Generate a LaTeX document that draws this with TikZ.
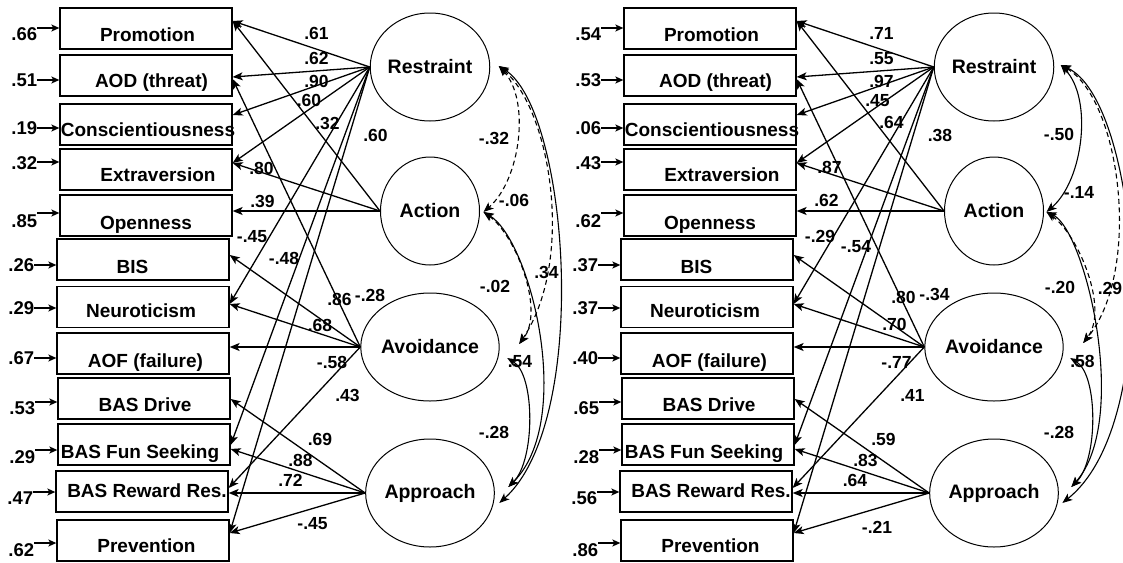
\documentclass[tikz,border=0pt]{standalone}
\usepackage{fontspec}
\setmainfont{Liberation Sans}
\usetikzlibrary{arrows.meta,shapes.geometric,calc}

\tikzset{
  obsbox/.style={draw, line width=1.3pt, minimum width=172pt, minimum height=41pt,
    inner sep=0pt, text depth=0pt, font=\fontsize{19}{20}\selectfont\bfseries},
  latent/.style={draw, ellipse, line width=1pt, minimum width=99pt, minimum height=108pt,
    inner sep=0pt, font=\fontsize{19.5}{20}\selectfont\bfseries},
  errlabel/.style={anchor=east, inner sep=0pt, font=\fontsize{18.5}{20}\selectfont\bfseries},
  coef/.style={inner sep=0pt, font=\fontsize{17.5}{18}\selectfont\bfseries},
  errarrow/.style={line width=1.3pt, -{Stealth[length=8pt,width=7pt,inset=2pt]}},
  load/.style={line width=1.3pt, -{Stealth[length=10pt,width=8pt,inset=2.5pt]}},
  cov/.style={line width=1.1pt,
    {Stealth[length=10pt,width=8pt,inset=2.5pt]}-{Stealth[length=10pt,width=8pt,inset=2.5pt]}},
  covdash/.style={cov, dash pattern=on 5pt off 3.5pt},
}

% #1 name, #2/#3 centre, #4 text, #5 error value, #6 error arrow offset,
% #7 error label offset, #8 text height (vertical placement), #9 twice the text shift
\newcommand\obsnode[9]{%
  \node[obsbox, text height=#8pt] (#1) at (#2,#3) {\makebox[0pt]{\hspace*{#9pt}#4}};
  \coordinate (#1-in) at ($(#1.west)+(0,#6)$);
  \node[errlabel] (#1-err) at ($(#1-in)+(-22,#7)$) {#5};
  \draw[errarrow] (#1-err.east |- #1-in) -- (#1-in);
}

\begin{document}
\begin{tikzpicture}[x=1pt,y=-1pt]
\useasboundingbox (0,0) rectangle (1123,562);

% ---------------- left model ----------------
\obsnode{L-prom}{146}{28.5}{Promotion}{.66}{-0.5}{6}{25.6}{3}
\obsnode{L-aod}{146}{75.5}{AOD (threat)}{.51}{4.5}{0}{23.2}{11}
\obsnode{L-con}{146}{124.5}{Conscientiousness}{.19}{3.5}{0}{23.2}{4}
\obsnode{L-ext}{146}{169.5}{Extraversion}{.32}{-7.5}{1}{23.2}{24}
\obsnode{L-opn}{146}{215.5}{Openness}{.85}{-2.5}{8}{27.2}{0}
\obsnode{L-bis}{143}{259.5}{BIS}{.26}{5.5}{0}{27.2}{-21}
\obsnode{L-neu}{143}{307}{Neuroticism}{.29}{1}{0}{20.2}{-4}
\obsnode{L-aof}{143}{353.5}{AOF (failure)}{.67}{4.5}{0}{27.2}{5}
\obsnode{L-drv}{144}{398.5}{BAS Drive}{.53}{3.5}{6}{26.2}{2}
\obsnode{L-fun}{144}{444.5}{BAS Fun Seeking}{.29}{5.5}{7}{27.2}{-8}
\obsnode{L-rew}{142}{491.5}{BAS Reward Res.}{.47}{0.5}{6}{11.2}{10}
\obsnode{L-prv}{143}{540.5}{Prevention}{.62}{2.5}{7}{23.2}{7}

\node[latent] (L-res) at (430,67)  {Restraint};
\node[latent] (L-act) at (430,211) {Action};
\node[latent] (L-avo) at (430,347) {Avoidance};
\node[latent] (L-app) at (430,493) {Approach};

% loadings
\draw[load] (L-res.west) -- ($(L-prom.east)+(0,-7.5)$);
\draw[load] (L-res.west) -- ($(L-aod.east)+(0,1.5)$);
\draw[load] (L-res.west) -- ($(L-con.east)+(0,-9.5)$);
\draw[load] (L-res.west) -- ($(L-ext.east)+(0,-6.5)$);
\draw[load] (L-res.west) -- ($(L-neu.east)+(0,-3)$);
\draw[load] (L-res.west) -- ($(L-fun.east)+(0,0.5)$);
\draw[load] (L-res.west) -- ($(L-prv.east)+(0,-7.5)$);
\draw[load] (L-act.west) -- ($(L-prom.east)+(0,-7.5)$);
\draw[load] (L-act.west) -- ($(L-ext.east)+(0,-6.5)$);
\draw[load] (L-act.west) -- (L-act.west -| L-opn.east);
\draw[load] (L-avo.west) -- ($(L-aod.east)+(0,3.5)$);
\draw[load] (L-avo.west) -- ($(L-bis.east)+(0,-4.5)$);
\draw[load] (L-avo.west) -- ($(L-neu.east)+(0,-3)$);
\draw[load] (L-avo.west) -- (L-avo.west -| L-aof.east);
\draw[load] (L-avo.west) -- ($(L-rew.east)+(0,-3.5)$);
\draw[load] (L-app.west) -- ($(L-drv.east)+(0,0.5)$);
\draw[load] (L-app.west) -- ($(L-fun.east)+(0,4.5)$);
\draw[load] (L-app.west) -- (L-app.west -| L-rew.east);
\draw[load] (L-app.west) -- ($(L-prv.east)+(0,-7.5)$);

% covariances
\draw[covdash] ($(L-res.east)+(8.5,-1)$) .. controls +(32,34) and +(37,-32) .. ($(L-act.east)+(3.5,1)$);
\draw[covdash] ($(L-res.east)+(8.5,-1)$) .. controls +(52,44) and +(56,-84) .. ($(L-avo.east)+(19.5,-3)$);
\draw[covdash] ($(L-act.east)+(3.5,1)$) .. controls +(32,23) and +(26,-34) .. ($(L-avo.east)+(19.5,-3)$);
\draw[cov] ($(L-res.east)+(8.5,-1)$) .. controls +(70,44) and +(92,-83) .. ($(L-app.east)+(4.5,10)$);
\draw[cov] ($(L-act.east)+(3.5,1)$) .. controls +(47,28) and +(67,-67) .. ($(L-app.east)+(13.5,-6)$);
\draw[cov] ($(L-avo.east)+(7.5,11)$) .. controls +(28,17) and +(27,-27) .. ($(L-app.east)+(13.5,-6)$);

\foreach \x/\y/\v [count=\i] in {316.5/33/.61, 316.5/58.5/.62, 316.5/81.5/.90, 309/100/.60,
  327.5/123.5/.32, 375.5/135/.60, 261.5/168.5/.80, 262.5/201.5/.39, 252/236.5/-.45,
  284/258.5/-.48, 339.5/299/.86, 370/295.5/-.28, 320/325.5/.68, 332/362/-.58,
  347.5/395.5/.43, 320/439.5/.69, 300.5/460.5/.88, 290.5/480.5/.72, 312.5/523.5/-.45,
  494/138.5/-.32, 514/200/-.06, 495/286.5/-.02, 546.5/272.5/.34, 520/361.5/.54, 494/432.5/-.28}
  {\node[coef] (L-c\i) at (\x,\y) {\v};}

% ---------------- right model ----------------
\obsnode{R-prom}{710}{28.5}{Promotion}{.54}{-0.5}{6}{25.6}{3}
\obsnode{R-aod}{710}{75.5}{AOD (threat)}{.53}{4.5}{0}{23.2}{11}
\obsnode{R-con}{710}{124.5}{Conscientiousness}{.06}{3.5}{0}{23.2}{4}
\obsnode{R-ext}{710}{169.5}{Extraversion}{.43}{-7.5}{1}{23.2}{24}
\obsnode{R-opn}{710}{215.5}{Openness}{.62}{-2.5}{8}{27.2}{0}
\obsnode{R-bis}{707}{259.5}{BIS}{.37}{5.5}{0}{27.2}{-21}
\obsnode{R-neu}{707}{307}{Neuroticism}{.37}{1}{0}{20.2}{-4}
\obsnode{R-aof}{707}{353.5}{AOF (failure)}{.40}{4.5}{0}{27.2}{5}
\obsnode{R-drv}{708}{398.5}{BAS Drive}{.65}{3.5}{6}{26.2}{2}
\obsnode{R-fun}{708}{444.5}{BAS Fun Seeking}{.28}{5.5}{7}{27.2}{-8}
\obsnode{R-rew}{706}{491.5}{BAS Reward Res.}{.56}{0.5}{6}{11.2}{10}
\obsnode{R-prv}{707}{540.5}{Prevention}{.86}{2.5}{7}{23.2}{7}

\node[latent] (R-res) at (994,67)  {Restraint};
\node[latent] (R-act) at (994,211) {Action};
\node[latent] (R-avo) at (994,347) {Avoidance};
\node[latent] (R-app) at (994,493) {Approach};

\draw[load] (R-res.west) -- ($(R-prom.east)+(0,-7.5)$);
\draw[load] (R-res.west) -- ($(R-aod.east)+(0,1.5)$);
\draw[load] (R-res.west) -- ($(R-con.east)+(0,-9.5)$);
\draw[load] (R-res.west) -- ($(R-ext.east)+(0,-6.5)$);
\draw[load] (R-res.west) -- ($(R-neu.east)+(0,-3)$);
\draw[load] (R-res.west) -- ($(R-fun.east)+(0,0.5)$);
\draw[load] (R-res.west) -- ($(R-prv.east)+(0,-7.5)$);
\draw[load] (R-act.west) -- ($(R-prom.east)+(0,-7.5)$);
\draw[load] (R-act.west) -- ($(R-ext.east)+(0,-6.5)$);
\draw[load] (R-act.west) -- (R-act.west -| R-opn.east);
\draw[load] (R-avo.west) -- ($(R-aod.east)+(0,3.5)$);
\draw[load] (R-avo.west) -- ($(R-bis.east)+(0,-4.5)$);
\draw[load] (R-avo.west) -- ($(R-neu.east)+(0,-3)$);
\draw[load] (R-avo.west) -- (R-avo.west -| R-aof.east);
\draw[load] (R-avo.west) -- ($(R-rew.east)+(0,-3.5)$);
\draw[load] (R-app.west) -- ($(R-drv.east)+(0,0.5)$);
\draw[load] (R-app.west) -- ($(R-fun.east)+(0,4.5)$);
\draw[load] (R-app.west) -- (R-app.west -| R-rew.east);
\draw[load] (R-app.west) -- ($(R-prv.east)+(0,-7.5)$);

\draw[cov] ($(R-res.east)+(6.5,-2)$) .. controls +(32,34) and +(37,-32) .. ($(R-act.east)+(2.5,1)$);
\draw[covdash] ($(R-res.east)+(6.5,-2)$) .. controls +(60,35) and +(59,-73) .. ($(R-avo.east)+(19.5,-4)$);
\draw[covdash] ($(R-act.east)+(2.5,1)$) .. controls +(32,23) and +(26,-34) .. ($(R-avo.east)+(19.5,-4)$);
\draw[cov] ($(R-res.east)+(6.5,-2)$) .. controls +(78,35) and +(104,-83) .. ($(R-app.east)+(3.5,10)$);
\draw[cov] ($(R-act.east)+(2.5,1)$) .. controls +(39,18) and +(59,-67) .. ($(R-app.east)+(12.5,-6)$);
\draw[cov] ($(R-avo.east)+(6.5,11)$) .. controls +(28,17) and +(27,-27) .. ($(R-app.east)+(12.5,-6)$);

\foreach \x/\y/\v [count=\i] in {881.5/33.5/.71, 881.5/59/.55, 881.5/81.5/.97, 877.5/100.5/.45,
  891.5/122.5/.64, 940/135/.38, 829.5/167.5/.87, 826.5/200/.62, 820/236.5/-.29,
  856/246.5/-.54, 903.5/297.5/.80, 934.5/294.5/-.34, 894.5/324.5/.70, 896.5/362.5/-.77,
  912.5/395.5/.41, 883.5/439.5/.59, 865.5/460.5/.83, 855/480/.64, 877/527.5/-.21,
  1059/134.5/-.50, 1079/192.5/-.14, 1060/287.5/-.20, 1110/288/.29, 1082.5/361.5/.58, 1059/432.5/-.28}
  {\node[coef] (R-c\i) at (\x,\y) {\v};}

\end{tikzpicture}
\end{document}
